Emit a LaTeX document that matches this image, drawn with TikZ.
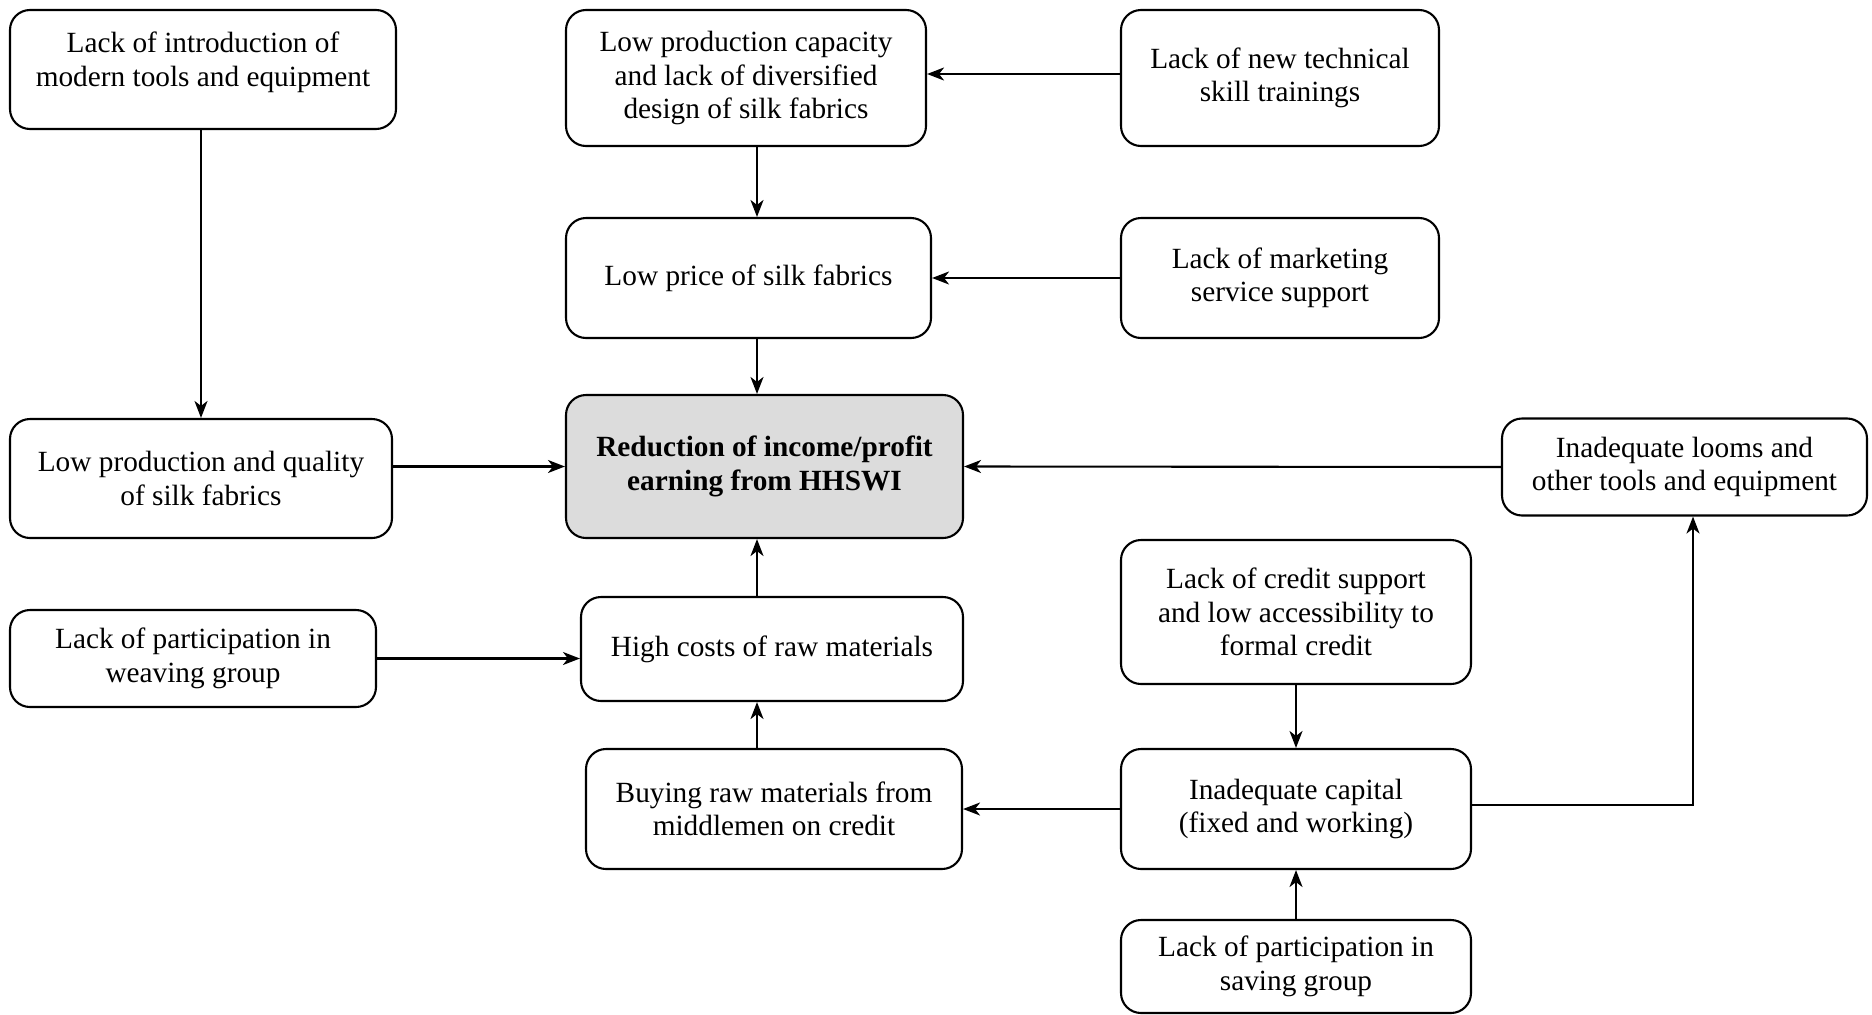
\documentclass[tikz,border=0pt]{standalone}
\usepackage{fontspec}
\setmainfont{Liberation Serif}
\usetikzlibrary{arrows.meta,positioning}
\definecolor{focalgray}{RGB}{220,220,220}

\begin{document}
\begin{tikzpicture}[
    x=1pt, y=-1pt,
    box/.style={draw, rounded corners=20pt, line width=2.1pt, fill=white, align=center, inner sep=0pt, font=\fontsize{29.3}{33.4}\selectfont},
    focal/.style={box, fill=focalgray, font=\fontsize{29.3}{33.4}\selectfont\bfseries},
    arrow/.style={-{Stealth[length=17pt, width=13pt, inset=5pt]}, line width=2.1pt}
]

\useasboundingbox (0,0) rectangle (1872,1015);

\coordinate (midcol) at (757,0);
\coordinate (loomcol) at (1693,0);

\node[box, minimum width=386pt, minimum height=119pt, text depth=21pt] (tools) at (203,69.5) {Lack of introduction of\\modern tools and equipment};
\node[box, minimum width=360pt, minimum height=136pt] (capacity) at (746,78) {Low production capacity\\and lack of diversified\\design of silk fabrics};
\node[box, minimum width=318pt, minimum height=136pt] (training) at (1280,78) {Lack of new technical\\skill trainings};
\node[box, minimum width=365pt, minimum height=120pt] (price) at (748.5,278) {Low price of silk fabrics};
\node[box, minimum width=318pt, minimum height=120pt] (marketing) at (1280,278) {Lack of marketing\\service support};
\node[focal, minimum width=397pt, minimum height=143pt] (income) at (764.5,466.5) {Reduction of income/profit\\earning from HHSWI};
\node[box, minimum width=382pt, minimum height=119pt] (quality) at (201,478.5) {Low production and quality\\of silk fabrics};
\node[box, minimum width=365pt, minimum height=97pt] (looms) at (1684.5,467) {Inadequate looms and\\other tools and equipment};
\node[box, minimum width=366pt, minimum height=97pt] (weaving) at (193,658.5) {Lack of participation in\\weaving group};
\node[box, minimum width=382pt, minimum height=104pt] (rawcost) at (772,649) {High costs of raw materials};
\node[box, minimum width=350pt, minimum height=144pt] (credit) at (1296,612) {Lack of credit support\\and low accessibility to\\formal credit};
\node[box, minimum width=376pt, minimum height=120pt] (middlemen) at (774,809) {Buying raw materials from\\middlemen on credit};
\node[box, minimum width=350pt, minimum height=120pt] (capital) at (1296,809) {Inadequate capital\\(fixed and working)};
\node[box, minimum width=350pt, minimum height=93pt] (saving) at (1296,966.5) {Lack of participation in\\saving group};

\draw[arrow] (tools.south -| quality.north) -- (quality.north);
\draw[arrow] (training.west |- 0,74) -- (capacity.east |- 0,74);
\draw[arrow] (capacity.south -| midcol) -- (price.north -| midcol);
\draw[arrow] (marketing.west) -- (marketing.west -| price.east);
\draw[arrow] (price.south -| midcol) -- (income.north -| midcol);
\draw[arrow] (quality.east |- income.west) -- (income.west);
\draw[arrow] (looms.west) -- (income.east);
\draw[arrow] (rawcost.north -| midcol) -- (income.south -| midcol);
\draw[arrow] (weaving.east) -- (weaving.east -| rawcost.west);
\draw[arrow] (middlemen.north -| midcol) -- (rawcost.south -| midcol);
\draw[arrow] (credit) -- (capital);
\draw[arrow] (saving) -- (capital);
\draw[arrow] (capital.west) -- (capital.west -| middlemen.east);
\draw[arrow] (capital.east |- 0,805) -| (looms.south -| loomcol);

\end{tikzpicture}
\end{document}
